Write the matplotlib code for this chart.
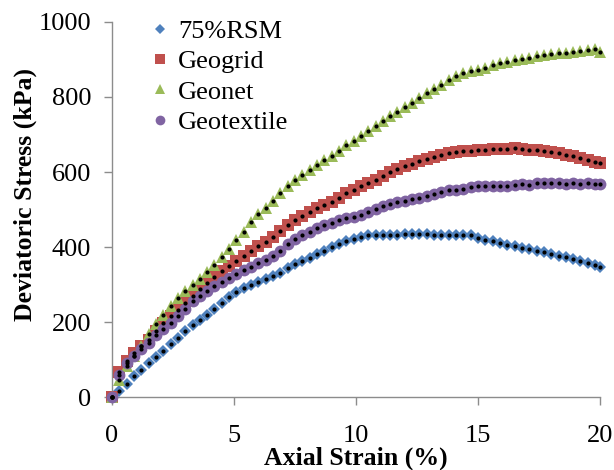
import matplotlib
matplotlib.use("Agg")
import matplotlib.pyplot as plt
from matplotlib.lines import Line2D

plt.rcParams['font.family'] = ['Liberation Serif', 'DejaVu Serif']

# Axial strain (%) at each reading
strain = [0.0, 0.3, 0.6, 0.9, 1.2, 1.5, 1.8, 2.1, 2.4, 2.7,
          3.0, 3.3, 3.6, 3.9, 4.2, 4.5, 4.8, 5.1, 5.4, 5.7,
          6.0, 6.3, 6.6, 6.9, 7.2, 7.5, 7.8, 8.1, 8.4, 8.7,
          9.0, 9.3, 9.6, 9.9, 10.2, 10.5, 10.8, 11.1, 11.4, 11.7,
          12.0, 12.3, 12.6, 12.9, 13.2, 13.5, 13.8, 14.1, 14.4, 14.7,
          15.0, 15.3, 15.6, 15.9, 16.2, 16.5, 16.8, 17.1, 17.4, 17.7,
          18.0, 18.3, 18.6, 18.9, 19.2, 19.5, 19.8, 20.0]

# Deviatoric stress (kPa)
rsm75 = [0, 16, 36, 55, 72, 90, 106, 124, 142, 158,
         176, 192, 206, 220, 236, 251, 266, 280, 291, 300,
         307, 314, 322, 332, 343, 355, 364, 372, 381, 390,
         399, 407, 415, 422, 428, 431, 432, 431, 432, 433,
         434, 436, 435, 434, 433, 432, 433, 432, 432, 431,
         425, 420, 415, 410, 406, 402, 398, 394, 390, 386,
         381, 377, 373, 369, 364, 358, 352, 347]

geogrid = [0, 68, 95, 118, 135, 152, 175, 198, 215, 232,
           250, 270, 288, 305, 320, 336, 350, 363, 375, 390,
           402, 414, 428, 442, 458, 472, 484, 494, 503, 512,
           521, 531, 543, 553, 562, 571, 580, 590, 600, 608,
           615, 622, 630, 636, 641, 646, 650, 653, 655, 657,
           658, 660, 661, 662, 661, 663, 661, 660, 658, 655,
           653, 650, 646, 643, 638, 633, 627, 624]

geonet = [0, 45, 83, 110, 137, 168, 195, 220, 243, 264,
          282, 300, 316, 334, 352, 373, 396, 418, 441, 468,
          487, 505, 524, 545, 563, 578, 592, 605, 618, 631,
          643, 656, 671, 683, 697, 710, 723, 737, 749, 760,
          772, 785, 798, 810, 821, 833, 845, 855, 863, 868,
          873, 878, 884, 890, 894, 898, 902, 905, 908, 912,
          914, 916, 918, 921, 923, 926, 927, 921]

geotextile = [0, 58, 92, 110, 128, 145, 165, 182, 198, 215,
              235, 255, 270, 283, 296, 308, 318, 328, 338, 348,
              358, 366, 376, 390, 408, 422, 432, 441, 450, 458,
              465, 471, 477, 481, 486, 494, 502, 509, 515, 520,
              524, 528, 532, 537, 542, 547, 551, 553, 556, 560,
              562, 564, 563, 562, 564, 566, 568, 566, 570, 572,
              570, 572, 569, 571, 568, 570, 567, 568]

labels = ['75%RSM', 'Geogrid', 'Geonet', 'Geotextile']
series = [rsm75, geogrid, geonet, geotextile]
colors = ['#4F81BD', '#C0504D', '#9BBB59', '#8064A2']
markers = ['D', 's', '^', 'o']
msizes = [6, 8.5, 8.5, 8.5]

fig = plt.figure(figsize=(6.14, 4.70), dpi=100)
ax = fig.add_axes([0.1824, 0.1553, 0.7948, 0.7979])

for vals, c, m, ms in zip(series, colors, markers, msizes):
    ax.plot(strain, vals, linestyle='none', marker=m, markersize=ms,
            color=c, markeredgewidth=0, clip_on=False, zorder=3)

# model points overlaid on each curve
for vals in series:
    ax.plot(strain, vals, linestyle='none', marker='o', markersize=3,
            color='black', markeredgewidth=0, clip_on=False, zorder=4)

ax.set_xlim(0, 20)
ax.set_ylim(0, 1000)
ax.set_xticks([0, 5, 10, 15, 20])
ax.set_yticks([0, 200, 400, 600, 800, 1000])

for side in ['top', 'right']:
    ax.spines[side].set_visible(False)
for side in ['left', 'bottom']:
    ax.spines[side].set_color('#8c8c8c')
    ax.spines[side].set_linewidth(1.0)

ax.tick_params(axis='both', direction='out', length=6, width=1.0,
               color='#8c8c8c', labelsize=19, labelcolor='black')
ax.tick_params(axis='x', pad=14)
ax.tick_params(axis='y', pad=9)

ax.set_xlabel('Axial Strain (%)', fontsize=18.5, fontweight='bold')
ax.xaxis.set_label_coords(0.5, -0.133)
ax.set_ylabel('Deviatoric Stress (kPa)', fontsize=18.5, fontweight='bold')
ax.yaxis.set_label_coords(-0.153, 0.54)

handles = [Line2D([], [], linestyle='none', marker=m, color=c,
                  markersize=(5 if m == 'D' else 7), markeredgewidth=0)
           for m, c in zip(markers, colors)]
ax.legend(handles, labels, loc='upper left', bbox_to_anchor=(0.06, 1.035),
          frameon=False, fontsize=19, handlelength=0.6, handletextpad=0.4,
          labelspacing=0.26, borderaxespad=0)

fig.savefig('out.png', dpi=100)
